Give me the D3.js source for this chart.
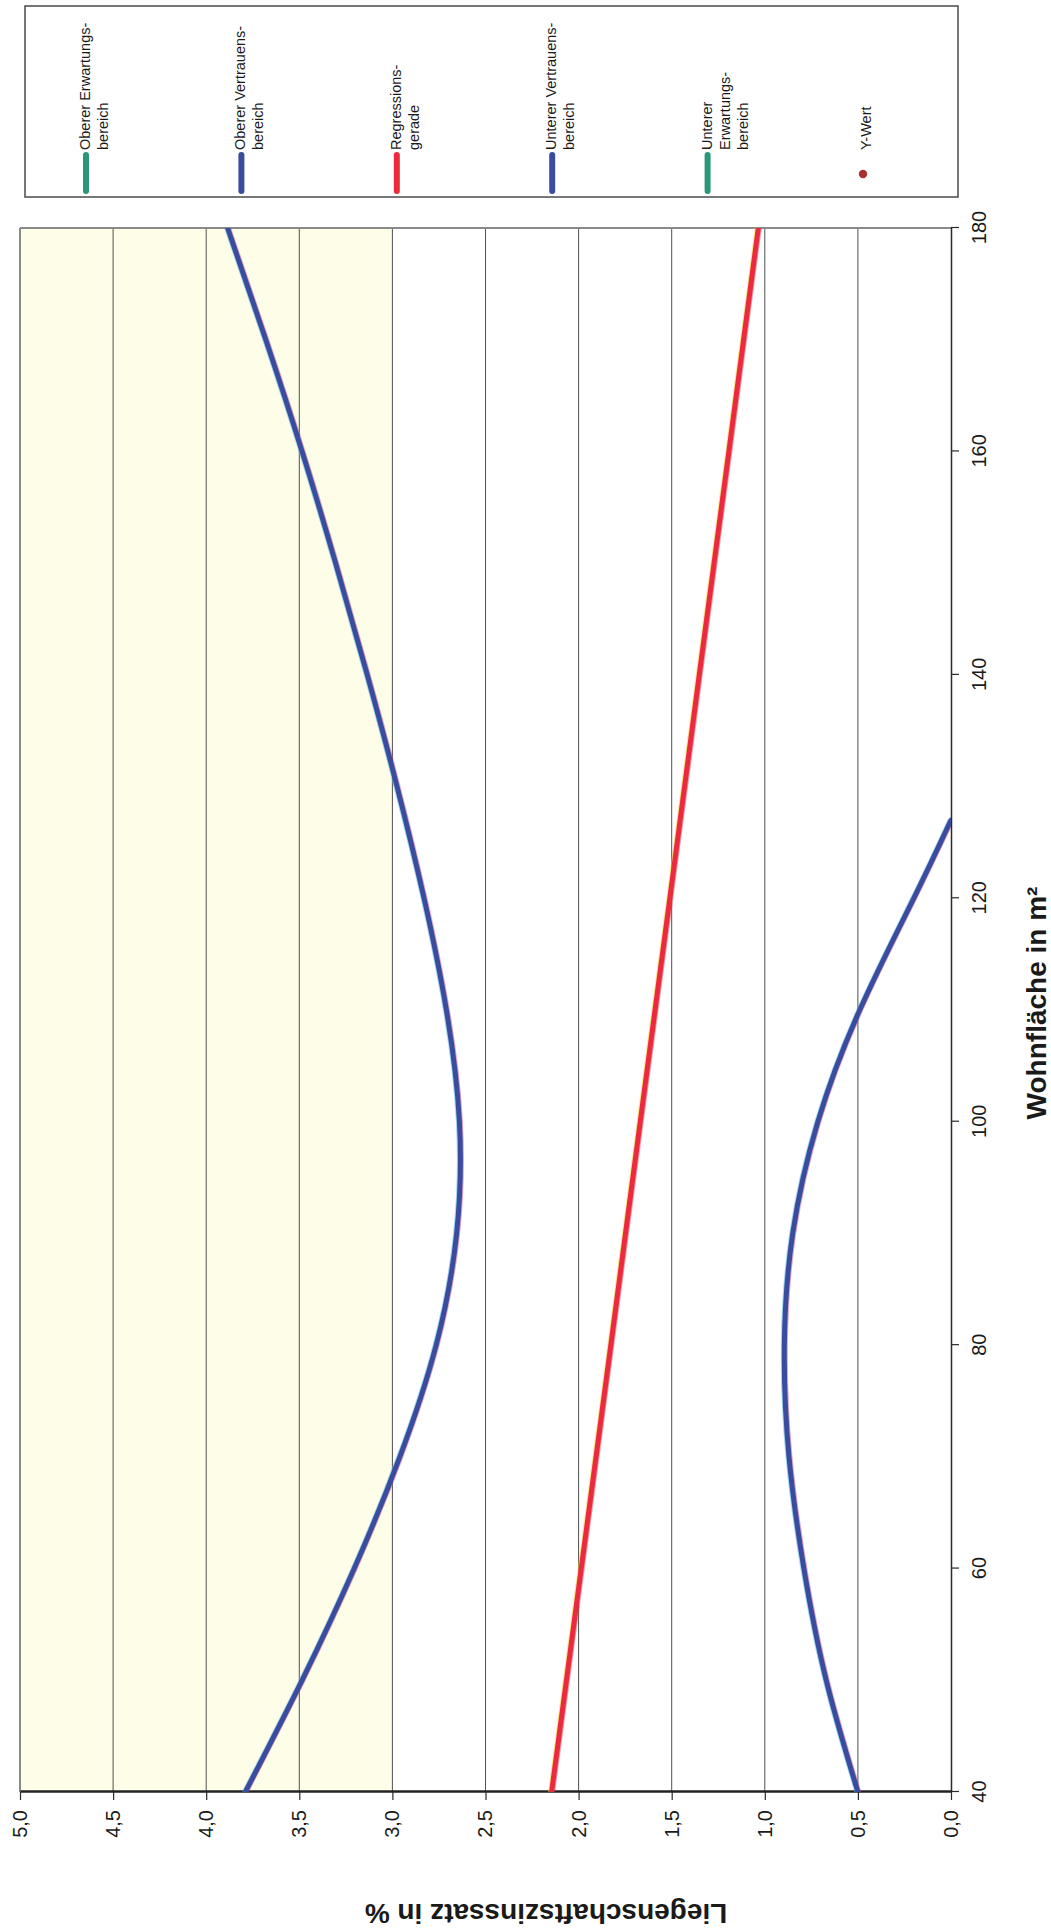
<!DOCTYPE html>
<html lang="de">
<head>
<meta charset="utf-8">
<script src="https://cdn.jsdelivr.net/npm/d3@7"></script>
<style>
  html, body { margin: 0; padding: 0; background: #ffffff; }
  svg { display: block; }
  text { font-family: "Liberation Sans", Arial, sans-serif; fill: #1a1a1a; }
</style>
</head>
<body>
<svg id="chart" width="1051" height="1932"></svg>
<script>
// Wohnfläche (m²) and Liegenschaftszinssatz (%) values
const upperConfX = [40, 50, 60, 70, 80, 90, 100, 110, 120, 130, 140, 150, 160, 170, 180];
const upperConfY = [3.79, 3.485, 3.205, 2.96, 2.765, 2.655, 2.64, 2.71, 2.83, 2.975, 3.135, 3.305, 3.485, 3.68, 3.885];

const lowerConfX = [40, 50, 60, 70, 80, 90, 100, 110, 120, 127];
const lowerConfY = [0.50, 0.67, 0.79, 0.87, 0.895, 0.85, 0.715, 0.49, 0.20, 0.0];

const regressionX = [40, 60, 80, 100, 120, 140, 160, 180];
const regressionY = [2.145, 1.986, 1.827, 1.669, 1.51, 1.352, 1.193, 1.035];

const xTicks = [40, 60, 80, 100, 120, 140, 160, 180];
const yTicks = [0, 0.5, 1, 1.5, 2, 2.5, 3, 3.5, 4, 4.5, 5];
const yTickLabels = ["0,0", "0,5", "1,0", "1,5", "2,0", "2,5", "3,0", "3,5", "4,0", "4,5", "5,0"];

const legendLabels = [
  ["Oberer Erwartungs-", "bereich"],
  ["Oberer Vertrauens-", "bereich"],
  ["Regressions-", "gerade"],
  ["Unterer Vertrauens-", "bereich"],
  ["Unterer", "Erwartungs-", "bereich"],
  ["Y-Wert"]
];
const legendKinds = ["line", "line", "line", "line", "line", "dot"];
const legendColors = ["#2a9878", "#3a4c9e", "#ec2a3e", "#3a4c9e", "#2a9878", "#a8302e"];

const xTitle = "Wohnfläche in m²";
const yTitle = "Liegenschaftszinssatz in %";

// The chart is laid out in landscape and turned a quarter turn on the page
const PAGE_H = 1932;
const svg = d3.select("#chart");
const g = svg.append("g").attr("transform", `translate(0,${PAGE_H}) rotate(-90)`);

const plot = { left: 140, right: 1704, top: 20, bottom: 951 };
const x = d3.scaleLinear().domain([40, 180]).range([plot.left, plot.right]);
const y = d3.scaleLinear().domain([0, 5]).range([plot.bottom, plot.top]);

// shaded band 3,0 – 5,0
g.append("rect")
  .attr("x", plot.left).attr("y", y(5))
  .attr("width", plot.right - plot.left).attr("height", y(3) - y(5))
  .attr("fill", "#fdfde8");

// horizontal gridlines
g.append("g").selectAll("line")
  .data(yTicks.filter(d => d > 0))
  .join("line")
  .attr("x1", plot.left).attr("x2", plot.right)
  .attr("y1", d => y(d)).attr("y2", d => y(d))
  .attr("stroke", d => d === 5 ? "#8a8a8a" : "#505050")
  .attr("stroke-width", d => d === 5 ? 2 : 1);

// right border of the plot area
g.append("line")
  .attr("x1", plot.right).attr("x2", plot.right)
  .attr("y1", plot.top).attr("y2", plot.bottom)
  .attr("stroke", "#8a8a8a").attr("stroke-width", 2);

// axes
const yAxis = d3.axisLeft(y).tickValues(yTicks)
  .tickFormat((d, i) => yTickLabels[i]).tickSize(8).tickSizeOuter(0).tickPadding(10);
const xAxis = d3.axisBottom(x).tickValues(xTicks)
  .tickFormat(d => String(d)).tickSize(8).tickSizeOuter(0).tickPadding(13);

const gx = g.append("g").attr("transform", `translate(0,${plot.bottom})`).call(xAxis);
gx.select(".domain").attr("stroke", "#2a2a2a").attr("stroke-width", 1.5);
gx.selectAll(".tick line").attr("stroke", "#2a2a2a").attr("stroke-width", 1.2);
gx.selectAll(".tick text").attr("font-size", 20).attr("fill", "#1a1a1a")
  .attr("font-family", "Liberation Sans, Arial, sans-serif");

const gy = g.append("g").attr("transform", `translate(${plot.left},0)`).call(yAxis);
gy.select(".domain").attr("stroke", "#222").attr("stroke-width", 2.5);
gy.selectAll(".tick line").attr("stroke", "#2a2a2a").attr("stroke-width", 1.2);
gy.selectAll(".tick text").attr("font-size", 20).attr("fill", "#1a1a1a")
  .attr("font-family", "Liberation Sans, Arial, sans-serif");

// clip for the series
g.append("clipPath").attr("id", "plot-clip")
  .append("rect")
  .attr("x", plot.left).attr("y", plot.top)
  .attr("width", plot.right - plot.left).attr("height", plot.bottom - plot.top);

const line = d3.line()
  .x(d => x(d[0])).y(d => y(d[1]))
  .curve(d3.curveNatural);

const series = [
  { xs: upperConfX, ys: upperConfY, color: "#3a4c9e", fringeA: "#5fb6e6", fringeB: "#c04a8a" },
  { xs: lowerConfX, ys: lowerConfY, color: "#3a4c9e", fringeA: "#5fb6e6", fringeB: "#c04a8a" },
  { xs: regressionX, ys: regressionY, color: "#ec2a3e", fringeA: "#f2d23a", fringeB: "#e0304a" }
];

const lines = g.append("g").attr("clip-path", "url(#plot-clip)");
series.forEach(s => {
  const pts = s.xs.map((v, i) => [v, s.ys[i]]);
  const dStr = line(pts);
  // slight colour fringe along the strokes
  lines.append("path").attr("d", dStr).attr("fill", "none")
    .attr("stroke", s.fringeA).attr("stroke-width", 3)
    .attr("transform", "translate(0,-2)").attr("opacity", 0.6);
  lines.append("path").attr("d", dStr).attr("fill", "none")
    .attr("stroke", s.fringeB).attr("stroke-width", 3)
    .attr("transform", "translate(0,2)").attr("opacity", 0.5);
  lines.append("path").attr("d", dStr).attr("fill", "none")
    .attr("stroke", s.color).attr("stroke-width", 5)
    .attr("stroke-linejoin", "round").attr("stroke-linecap", "round");
});

// axis titles
g.append("text")
  .attr("x", (plot.left + plot.right) / 2 + 7).attr("y", 1046)
  .attr("text-anchor", "middle").attr("font-size", 28).attr("font-weight", "bold")
  .text(xTitle);

g.append("text")
  .attr("transform", `translate(28,546) rotate(-90)`)
  .attr("text-anchor", "middle").attr("font-size", 28).attr("font-weight", "bold")
  .text(yTitle);

// legend
const legend = { u0: 1735, u1: 1926, v0: 25, v1: 958 };
g.append("rect")
  .attr("x", legend.u0).attr("y", legend.v0)
  .attr("width", legend.u1 - legend.u0).attr("height", legend.v1 - legend.v0)
  .attr("fill", "#ffffff").attr("stroke", "#4a4a4a").attr("stroke-width", 1.5);

const legendRows = d3.scaleLinear().domain([0, 5]).range([86, 863]);
const items = g.append("g").selectAll("g")
  .data(legendLabels)
  .join("g")
  .attr("transform", (d, i) => `translate(0,${legendRows(i)})`);

items.each(function (d, i) {
  const it = d3.select(this);
  if (legendKinds[i] === "line") {
    it.append("line")
      .attr("x1", 1741).attr("x2", 1777).attr("y1", 0).attr("y2", 0)
      .attr("stroke", legendColors[i]).attr("stroke-width", 6)
      .attr("stroke-linecap", "round");
  } else {
    it.append("circle").attr("cx", 1758).attr("cy", 0).attr("r", 4.2)
      .attr("fill", legendColors[i]);
  }
  const t = it.append("text").attr("x", 1782).attr("y", d.length === 1 ? 8 : 4)
    .attr("font-size", 14.5);
  d.forEach((s, k) => {
    t.append("tspan").attr("x", 1782).attr("dy", k === 0 ? 0 : 18).text(s);
  });
});
</script>
</body>
</html>
